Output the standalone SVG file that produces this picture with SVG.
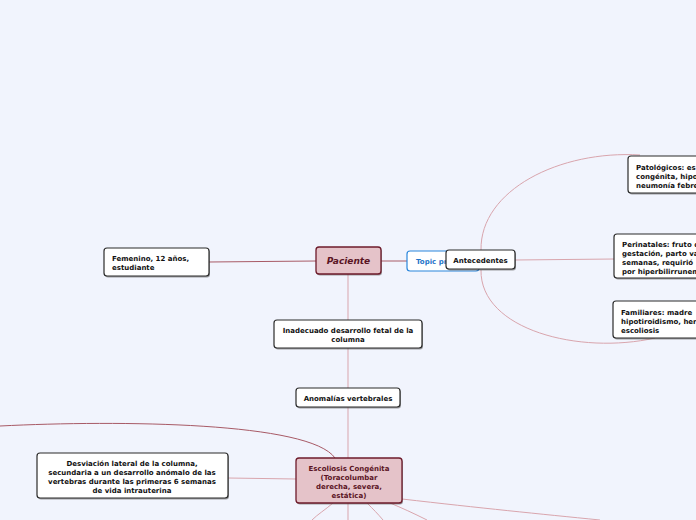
<svg xmlns="http://www.w3.org/2000/svg" width="696" height="520" viewBox="0 0 696 520">
<style>
.bg{fill:#f1f4fd}
.box{fill:#ffffff;stroke:#2b2b2b;stroke-width:1.2}
.main{fill:#e5c3c9;stroke:#6d1b2b;stroke-width:1.3}
.sh{fill:#555;opacity:0.55}
.t{font-family:"DejaVu Sans",Verdana,sans-serif;font-weight:bold;font-size:7px;fill:#111}
.tm{font-family:"DejaVu Sans",Verdana,sans-serif;font-weight:bold;font-size:7px;fill:#5a1424}
.c{fill:none;stroke:#d9a5ad;stroke-width:1}
.cd{fill:none;stroke:#a85a66;stroke-width:1}
</style>
<rect class="bg" x="0" y="0" width="696" height="520"/>
<g id="connectors">
<path class="cd" d="M209 262 L316 261"/>
<path class="cd" d="M381 261 L407 261"/>
<path class="c" d="M348 274 L348 320 M348 348 L348 388 M348 407 L348 458 M348 503 L348 520"/>
<path class="c" d="M481 250 C480 190 560 150 640 155"/>
<path class="c" d="M481 270 C480 330 580 355 655 338"/>
<path class="c" d="M515 260 L614 259"/>
<path class="c" d="M228 478 L296 479"/>
<path class="cd" d="M0 426 C120 420 310 422 335 458"/>
<path class="c" d="M333 503 C325 510 318 514 312 520"/>
<path class="c" d="M367 503 C373 509 378 514 383 520"/>
<path class="c" d="M390 503 C402 508 413 513 427 520"/>
<path class="c" d="M402 499 C480 508 540 514 600 520"/>
</g>
<g id="paciente">
<rect class="sh" x="317" y="248.5" width="65" height="27" rx="3"/>
<rect class="main" x="316" y="247" width="65" height="27" rx="3"/>
<text x="348.5" y="264" text-anchor="middle" style="font-family:'DejaVu Sans',Verdana,sans-serif;font-weight:bold;font-style:italic;font-size:9px;fill:#5a1424">Paciente</text>
</g>
<g id="topic">
<rect x="407" y="251" width="72" height="20" rx="3" fill="#ffffff" stroke="#2a86dc" stroke-width="1.2"/>
<text class="t" x="416" y="264" style="fill:#1f74c9">Topic pr</text>
</g>
<g id="antecedentes">
<rect class="sh" x="447" y="251.5" width="69" height="19" rx="3"/>
<rect class="box" x="446" y="250" width="69" height="19" rx="3"/>
<text class="t" x="480.5" y="263" text-anchor="middle">Antecedentes</text>
</g>
<g id="femenino">
<rect class="sh" x="105" y="249.5" width="105" height="28" rx="3"/>
<rect class="box" x="104" y="248" width="105" height="28" rx="3"/>
<text class="t" x="112" y="261">Femenino, 12 años,</text>
<text class="t" x="112" y="270">estudiante</text>
</g>
<g id="patologicos">
<rect class="sh" x="629" y="157.5" width="80" height="37" rx="3"/>
<rect class="box" x="628" y="156" width="80" height="37" rx="3"/>
<text class="t" x="636" y="170">Patológicos: es</text>
<text class="t" x="636" y="179">congénita, hipo</text>
<text class="t" x="636" y="188">neumonía febre</text>
</g>
<g id="perinatales">
<rect class="sh" x="615" y="235.5" width="90" height="44" rx="3"/>
<rect class="box" x="614" y="234" width="90" height="44" rx="3"/>
<text class="t" x="622" y="247">Perinatales: fruto d</text>
<text class="t" x="622" y="256">gestación, parto va</text>
<text class="t" x="622" y="265">semanas, requirió</text>
<text class="t" x="622" y="274">por hiperbilirrunem</text>
</g>
<g id="familiares">
<rect class="sh" x="614" y="302.5" width="90" height="37" rx="3"/>
<rect class="box" x="613" y="301" width="90" height="37" rx="3"/>
<text class="t" x="621" y="315">Familiares: madre</text>
<text class="t" x="621" y="324">hipotiroidismo, her</text>
<text class="t" x="621" y="333">escoliosis</text>
</g>
<g id="inadecuado">
<rect class="sh" x="275" y="321.5" width="148" height="28" rx="3"/>
<rect class="box" x="274" y="320" width="148" height="28" rx="3"/>
<text class="t" x="348" y="333" text-anchor="middle">Inadecuado desarrollo fetal de la</text>
<text class="t" x="348" y="342" text-anchor="middle">columna</text>
</g>
<g id="anomalias">
<rect class="sh" x="297" y="389.5" width="104" height="19" rx="3"/>
<rect class="box" x="296" y="388" width="104" height="19" rx="3"/>
<text class="t" x="348" y="401" text-anchor="middle">Anomalías vertebrales</text>
</g>
<g id="escoliosis">
<rect class="sh" x="297" y="459.5" width="106" height="45" rx="3"/>
<rect class="main" x="296" y="458" width="106" height="45" rx="3"/>
<text class="tm" x="349" y="471" text-anchor="middle">Escoliosis Congénita</text>
<text class="tm" x="349" y="480" text-anchor="middle">(Toracolumbar</text>
<text class="tm" x="349" y="489" text-anchor="middle">derecha, severa,</text>
<text class="tm" x="349" y="498" text-anchor="middle">estática)</text>
</g>
<g id="desviacion">
<rect class="sh" x="38" y="454.5" width="191" height="45" rx="3"/>
<rect class="box" x="37" y="453" width="191" height="45" rx="3"/>
<text class="t" x="132" y="466" text-anchor="middle">Desviación lateral de la columna,</text>
<text class="t" x="132" y="475" text-anchor="middle">secundaria a un desarrollo anómalo de las</text>
<text class="t" x="132" y="484" text-anchor="middle">vertebras durante las primeras 6 semanas</text>
<text class="t" x="132" y="493" text-anchor="middle">de vida intrauterina</text>
</g>
</svg>
